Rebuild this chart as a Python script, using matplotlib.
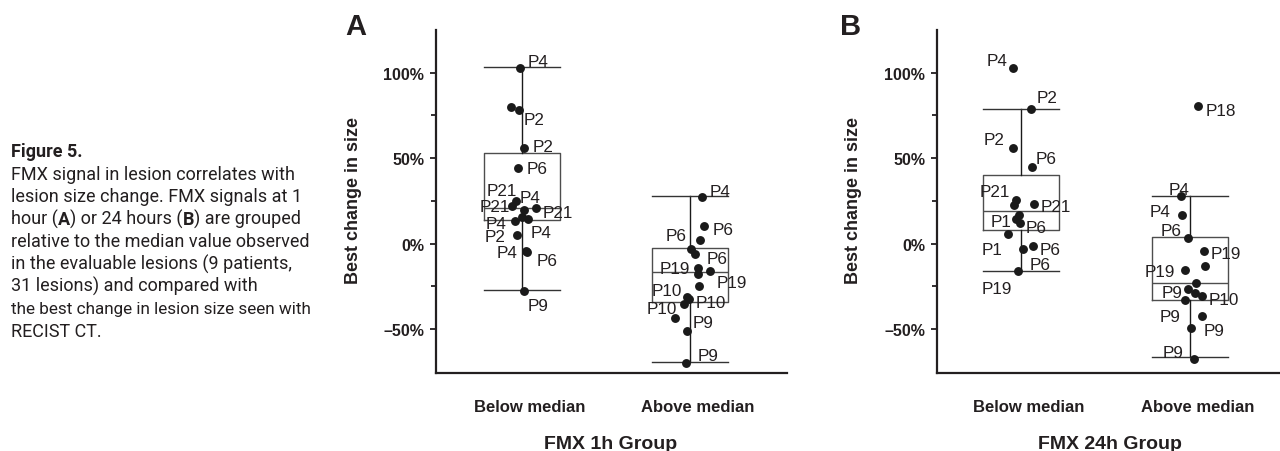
import matplotlib
matplotlib.use('Agg')
import matplotlib.pyplot as plt

W, H, DPI = 1280, 452, 100

# ---------------- data ----------------
groups = ['Below median', 'Above median']
panel_titles = ['FMX 1h Group', 'FMX 24h Group']
panel_letters = ['A', 'B']
ytick_vals = [-50, 0, 50, 100]
ytick_labels = ['\u201350%', '0%', '50%', '100%']

a_below_vals = [102.8, 80.1, 78.4, 55.7, 44.1, 24.8, 22.1, 19.5, 20.9, 15.6, 14.5, 13.1, 4.9, -4.9, -4.5, -27.5]
a_below_lbls = ['P4', '', 'P2', 'P2', 'P6', 'P21', 'P21', 'P4', 'P21', '', 'P4', 'P4', 'P2', 'P6', 'P4', 'P9']
a_above_vals = [27.3, 10.4, 2.3, -2.9, -5.9, -14.1, -16.2, -17.6, -25.0, -30.9, -32.2, -35.3, -43.4, -51.2, -69.6]
a_above_lbls = ['P4', 'P6', 'P6', '', 'P6', 'P19', 'P19', '', '', 'P10', 'P10', 'P10', 'P9', '', 'P9']
b_below_vals = [102.8, 78.7, 55.7, 44.7, 25.8, 22.5, 23.0, 17.0, 14.5, 12.3, 5.9, -1.3, -3.3, -16.2]
b_below_lbls = ['P4', 'P2', 'P2', 'P6', 'P21', '', 'P21', '', 'P1', 'P6', 'P1', 'P6', 'P6', 'P19']
b_above_vals = [80.5, 28.0, 17.0, 3.3, -4.3, -13.1, -15.1, -22.9, -26.4, -28.7, -30.7, -32.8, -42.0, -49.4, -67.4]
b_above_lbls = ['P18', 'P4', 'P4', 'P6', 'P19', '', 'P19', '', 'P9', '', 'P10', '', 'P9', 'P9', 'P9']

# box summaries: (whislo, q1, med, q3, whishi)
a_below_box = [-27.1, 13.7, 20.9, 52.9, 103.3]
a_above_box = [-69.0, -34.2, -16.8, -2.3, 27.7]
b_below_box = [-15.8, 7.8, 19.2, 40.4, 78.7]
b_above_box = [-66.4, -32.8, -23.0, 3.9, 28.1]

# ---------------- layout (pixels) ----------------
a_below_jit = [-2, -11, -3, 2, -4, -6, -10, 2, 14, 0, 6, -7, -5, 5, 4, 2]
a_below_off = [(8, 8, 'l'), None, (5, -8.7, 'l'), (9, 4, 'l'), (9, 1, 'l'), (1, 12, 'r'), (-2, 1.0, 'r'),
               (-4, 14.4, 'l'), (7, -2.4, 'l'), None, (3, -11.7, 'l'), (-8.3, -1.0, 'r'), (-12, 0.2, 'r'),
               (10, -7.2, 'l'), (-9, 0.7, 'r'), (4, -13, 'l')]
a_above_jit = [12, 14, 10, 1, 5, 8, 20, 8, 9, -3, -1, -6, -15, -3, -4]
a_above_off = [(7.3, 7.6, 'l'), (8.7, -2, 'l'), (-13.3, 6, 'r'), None, (12, -3.3, 'l'), (-8, 0.7, 'r'),
               (6.7, -9, 'l'), None, None, (-5.3, 7.7, 'r'), (7, -2.3, 'l'), (-7.3, -2.5, 'r'),
               (18, -2.7, 'l'), None, (11.7, 8.7, 'l')]
b_below_jit = [-8, 10, -8, 11, -5, -7, 13, -2, -5, -1, -13, 12, 2, -3]
b_below_off = [(-5, 9, 'r'), (5.7, 13.4, 'l'), (-8, 11, 'r'), (3.3, 10.4, 'l'), (-6, 9.8, 'r'), None,
               (6.7, 0, 'l'), None, (-4, -1.4, 'r'), (6, -2.7, 'l'), (-5, -14.3, 'r'), (7, -1.8, 'l'),
               (6.3, -13.5, 'l'), (-6, -15.6, 'r')]
b_above_jit = [8, -9, -8, -2, 14, 15, -5, 6, -2, 5, 12, -5, 12, 1, 4]
b_above_off = [(8, -3, 'l'), (-12.4, 8, 'l'), (-11.3, 4.3, 'r'), (-6, 9.3, 'r'), (7, -0.4, 'l'), None,
               (-10, -0.3, 'r'), None, (-5, -1.7, 'r'), None, (6.6, -2, 'l'), None, (2, -13.3, 'l'),
               (-10.7, 13.3, 'r'), (-10.7, 8.3, 'r')]

FONT = 'Liberation Sans'
CAPFONT = 'Roboto'
TXT = '#231f20'
LBL_SIZE = 12.3
plt.rcParams['font.family'] = [FONT, 'DejaVu Sans']

fig = plt.figure(figsize=(W / DPI, H / DPI), dpi=DPI)
fig.patch.set_facecolor('white')


def cap_half(size_pt):
    return size_pt * DPI / 72 * 0.716 / 2


def make_panel(ax_rect_px, xlim, px_per_unit, panel):
    left, right, top, bottom = ax_rect_px
    ax = fig.add_axes([left / W, 1 - bottom / H, (right - left) / W, (bottom - top) / H])
    ax.set_xlim(*xlim)
    ax.set_ylim(-75.6, 125)
    for s in ['top', 'right']:
        ax.spines[s].set_visible(False)
    for s in ['left', 'bottom']:
        ax.spines[s].set_linewidth(1.6)
        ax.spines[s].set_color(TXT)
    ax.set_yticks(ytick_vals)
    ax.set_yticklabels(ytick_labels, fontsize=11.5, fontweight='bold', color=TXT)
    ax.set_yticks([-25, 25, 75], minor=True)
    ax.tick_params(axis='y', which='major', direction='out', length=4.5, width=1.3, pad=4, colors=TXT)
    ax.tick_params(axis='y', which='minor', direction='out', length=3.5, width=1.3, colors=TXT)

    vals_list, lbls_list, box_list, jit_list, off_list = panel
    stats = []
    for b in box_list:
        stats.append(dict(whislo=b[0], q1=b[1], med=b[2], q3=b[3], whishi=b[4], fliers=[]))
    ax.bxp(stats, positions=[1, 2], widths=0.45, capwidths=0.45, showfliers=False,
           boxprops=dict(color='#4d4d4d', linewidth=1.0),
           medianprops=dict(color='#4d4d4d', linewidth=1.0),
           whiskerprops=dict(color='#1a1a1a', linewidth=1.0),
           capprops=dict(color='#333333', linewidth=1.0))
    ax.set_xlim(*xlim)
    ax.set_xticks([1.045, 2.045])
    ax.set_xticklabels(groups, fontsize=12, fontweight='bold', color=TXT)
    ax.tick_params(axis='x', length=0, pad=19)

    for gi in range(2):
        vals, lbls, jits, offs = vals_list[gi], lbls_list[gi], jit_list[gi], off_list[gi]
        xs = [gi + 1 + j / px_per_unit for j in jits]
        ax.plot(xs, vals, 'o', color='#1a1a1a', ms=6.4, mec='none', zorder=4, clip_on=False)
        for x, v, lab, off in zip(xs, vals, lbls, offs):
            if not lab or off is None:
                continue
            dx, dy, ha = off
            ax.annotate(lab, (x, v), xytext=(dx, dy - cap_half(LBL_SIZE)), textcoords='offset pixels',
                        ha='left' if ha == 'l' else 'right', va='baseline', fontsize=LBL_SIZE,
                        color=TXT, zorder=5, annotation_clip=False)
    return ax


panelA = ([a_below_vals, a_above_vals], [a_below_lbls, a_above_lbls], [a_below_box, a_above_box],
          [a_below_jit, a_above_jit], [a_below_off, a_above_off])
panelB = ([b_below_vals, b_above_vals], [b_below_lbls, b_above_lbls], [b_below_box, b_above_box],
          [b_below_jit, b_above_jit], [b_below_off, b_above_off])

axA = make_panel((436, 787, 31, 374), (0.488, 2.577), 168, panelA)
axB = make_panel((937, 1287, 31, 374), (0.503, 0.503 + 350 / 169), 169, panelB)

for ax, cx, lx, title, letter, lettx in [(axA, 611, 353, panel_titles[0], panel_letters[0], 345),
                                         (axB, 1110, 854, panel_titles[1], panel_letters[1], 840)]:
    fig.text(cx / W, 1 - (442 + cap_half(14)) / H, title, fontsize=14, fontweight='bold',
             ha='center', va='baseline', color=TXT)
    fig.text(lx / W, 1 - 201 / H, 'Best change in size', fontsize=13, fontweight='bold',
             rotation=90, ha='center', va='center', color=TXT)
    fig.text(lettx / W, 1 - 35 / H, letter, fontsize=21, fontweight='bold', ha='left',
             va='baseline', color=TXT)

# ---------------- caption ----------------
renderer = fig.canvas.get_renderer()
cap_lines = [
    [('Figure 5.', 'bold')],
    [('FMX signal in lesion correlates with', 'normal')],
    [('lesion size change. FMX signals at 1', 'normal')],
    [('hour (', 'normal'), ('A', 'bold'), (') or 24 hours (', 'normal'), ('B', 'bold'), (') are grouped', 'normal')],
    [('relative to the median value observed', 'normal')],
    [('in the evaluable lesions (9 patients,', 'normal')],
    [('31 lesions) and compared with', 'normal')],
    [('the best change in lesion size seen with', 'normal')],
    [('RECIST CT.', 'normal')],
]
cap_sizes = [13, 13, 13, 13, 13, 13, 13, 12.3, 13]
base0, step = 157.5, 22.4
for i, segs in enumerate(cap_lines):
    x = 11
    yb = base0 + i * step
    for s, w in segs:
        t = fig.text(x / W, 1 - yb / H, s, fontsize=cap_sizes[i], fontweight=w, family=[CAPFONT, 'DejaVu Sans'],
                     ha='left', va='baseline', color='#231f20')
        x += t.get_window_extent(renderer).width

fig.savefig('out.png', dpi=DPI, facecolor='white')
